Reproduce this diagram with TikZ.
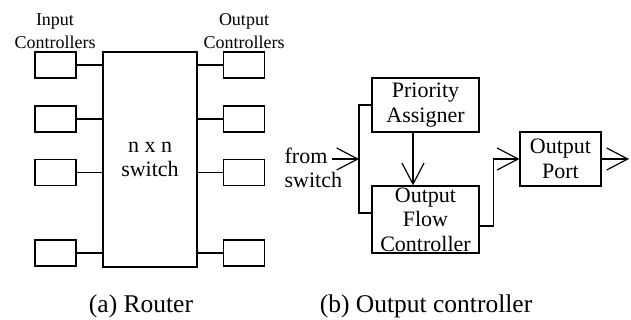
\documentclass[tikz,border=0pt]{standalone}
\usepackage{fontspec}
\setmainfont{Liberation Serif}
\usepackage{tikz}
\usetikzlibrary{arrows.meta,positioning}

\begin{document}
\begin{tikzpicture}[x=1pt,y=-1pt,line width=1.2pt,
  blk/.style={draw,inner sep=0pt,align=center,font=\fontsize{22}{24.5}\selectfont},
  ctl/.style={draw,inner sep=0pt,minimum width=41,minimum height=26},
  lbl/.style={inner sep=0pt,align=center,font=\fontsize{18}{23}\selectfont},
  captxt/.style={inner sep=0pt,anchor=base,font=\fontsize{25.5}{28}\selectfont},
  barb/.style={-{Straight Barb[length=21pt,width=22pt,line width=1.2pt]}}]
\useasboundingbox (0,0) rectangle (631,320);
% (a) router: n x n switch with its controllers
\node[blk,minimum width=94,minimum height=215] (sw) at (150,159.5) {n x n\\switch};
\node[lbl] (inlbl) at (55,31) {Input\\Controllers};
\node[lbl] (outlbl) at (244,31) {Output\\Controllers};
\foreach \i/\y in {1/65,2/119,3/172.5,4/253}{
  \node[ctl] (in\i) at (55.5,\y) {};
  \node[ctl] (out\i) at (244,\y) {};
  \draw (in\i.east) -- (in\i.east -| sw.west);
  \draw (out\i.west) -- (out\i.west -| sw.east);
}
% (b) output controller
\node[blk,minimum width=107,minimum height=54] (pa) at (425.5,105) {Priority\\Assigner};
\node[blk,minimum width=107,minimum height=67] (ofc) at (425.5,219.5) {Output\\Flow\\Controller};
\node[blk,minimum width=81,minimum height=54] (op) at (560.5,159) {Output\\Port};
\node[inner sep=0pt,anchor=north west,align=left,font=\fontsize{22}{24}\selectfont] (from) at (284,147) {from\\switch};
\coordinate (fs) at (332,159);
\coordinate (jn) at (359,159);
\coordinate (ofcin) at (372,213);
\coordinate (opout) at (629,159);
\draw[barb] (fs) -- (jn);
\draw (pa.west) -| (jn) |- (ofcin);
\draw[barb] ([xshift=-12.5pt]pa.south) -- ([xshift=-12.5pt]ofc.north);
\draw[barb] ([yshift=-6.5pt]ofc.east) -- ++(14,0) |- (op.west);
\draw[barb] (op.east) -- (opout);
% captions
\node[captxt] (capa) at (141,312) {(a) Router};
\node[captxt] (capb) at (426,312) {(b) Output controller};
\end{tikzpicture}
\end{document}
